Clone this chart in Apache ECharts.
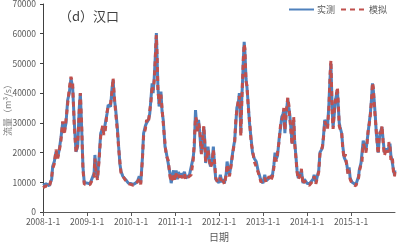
<!DOCTYPE html>
<html>
<head>
<meta charset="utf-8">
<script src="https://cdn.jsdelivr.net/npm/echarts@6/dist/echarts.min.js"></script>
<style>
  html, body { margin: 0; padding: 0; background: #fff; }
  #chart { width: 397px; height: 244px; }
</style>
</head>
<body>
<div id="chart"></div>
<script>
const dates = [
  "2008-01-01","2008-01-26","2008-02-22","2008-03-13","2008-03-21","2008-04-04","2008-04-18","2008-05-02","2008-05-15","2008-05-29","2008-06-12","2008-06-26","2008-07-10","2008-07-24","2008-08-06","2008-08-20","2008-09-03","2008-09-17","2008-10-01","2008-10-15","2008-10-28","2008-11-06","2008-11-17","2008-11-28","2008-12-09","2008-12-26",
  "2009-01-10","2009-01-25","2009-02-10","2009-02-28","2009-03-07","2009-03-15","2009-03-28","2009-04-10","2009-04-24","2009-05-10","2009-05-20","2009-06-01","2009-06-15","2009-06-25","2009-07-15","2009-07-28","2009-08-05","2009-08-15","2009-08-25","2009-09-10","2009-09-20","2009-10-01","2009-10-10","2009-10-25","2009-11-10","2009-11-25","2009-12-10","2009-12-28",
  "2010-01-10","2010-01-20","2010-02-10","2010-02-25","2010-03-10","2010-03-22","2010-04-05","2010-04-15","2010-04-30","2010-05-10","2010-05-25","2010-06-05","2010-06-15","2010-06-25","2010-07-03","2010-07-12","2010-07-20","2010-07-26","2010-07-30","2010-08-05","2010-08-12","2010-08-22","2010-08-30","2010-09-06","2010-09-15","2010-09-25","2010-10-10","2010-10-20","2010-11-05","2010-11-20","2010-11-30","2010-12-10","2010-12-20","2010-12-31",
  "2011-01-10","2011-01-20","2011-01-30","2011-02-10","2011-02-20","2011-03-05","2011-03-20","2011-04-01","2011-04-15","2011-05-01","2011-05-15","2011-06-01","2011-06-10","2011-06-20","2011-06-28","2011-07-07","2011-07-15","2011-07-25","2011-08-02","2011-08-08","2011-08-20","2011-08-28","2011-09-05","2011-09-12","2011-09-22","2011-10-02","2011-10-12","2011-10-22","2011-11-05","2011-11-15","2011-11-25","2011-12-05","2011-12-20","2011-12-31",
  "2012-01-12","2012-01-25","2012-02-05","2012-02-15","2012-03-01","2012-03-08","2012-03-20","2012-03-28","2012-04-10","2012-04-20","2012-05-01","2012-05-10","2012-05-20","2012-05-28","2012-06-10","2012-06-18","2012-06-25","2012-06-30","2012-07-08","2012-07-15","2012-07-22","2012-07-28","2012-08-03","2012-08-12","2012-08-20","2012-09-02","2012-09-10","2012-09-25","2012-10-05","2012-10-20","2012-11-05","2012-11-20","2012-12-01","2012-12-15","2012-12-31",
  "2013-01-15","2013-01-25","2013-02-05","2013-02-20","2013-03-05","2013-03-20","2013-04-01","2013-04-10","2013-04-20","2013-05-01","2013-05-15","2013-05-25","2013-06-05","2013-06-15","2013-06-22","2013-07-01","2013-07-10","2013-07-18","2013-07-25","2013-08-03","2013-08-10","2013-08-20","2013-08-30","2013-09-06","2013-09-12","2013-09-20","2013-09-28","2013-10-10","2013-10-20","2013-11-05","2013-11-15","2013-11-28","2013-12-10","2013-12-20","2013-12-31",
  "2014-01-20","2014-02-05","2014-02-20","2014-03-01","2014-03-15","2014-03-25","2014-04-08","2014-04-18","2014-05-01","2014-05-10","2014-05-20","2014-05-28","2014-06-10","2014-06-20","2014-07-01","2014-07-05","2014-07-12","2014-07-18","2014-07-25","2014-07-30","2014-08-05","2014-08-15","2014-08-25","2014-09-05","2014-09-10","2014-09-18","2014-09-25","2014-10-02","2014-10-15","2014-10-25","2014-11-05","2014-11-15","2014-11-25","2014-12-08","2014-12-16","2014-12-25",
  "2015-01-10","2015-01-25","2015-02-10","2015-02-20","2015-03-05","2015-03-10","2015-03-25","2015-04-02","2015-04-12","2015-04-25","2015-05-05","2015-05-15","2015-05-22","2015-06-01","2015-06-10","2015-06-20","2015-06-28","2015-07-05","2015-07-12","2015-07-22","2015-07-30","2015-08-10","2015-08-15","2015-08-22","2015-08-30","2015-09-10","2015-09-15","2015-09-25","2015-10-05","2015-10-15","2015-10-25","2015-11-05","2015-11-12","2015-11-20","2015-11-28","2015-12-05","2015-12-12","2015-12-20","2015-12-28","2015-12-31"
];
const observed = [
  9000,9500,8800,11000,15300,17000,20300,18500,21000,25000,29900,27000,30000,37700,40000,45000,42000,30000,20300,22000,35000,40000,28000,15000,9700,9800,
  9700,9500,9800,13000,19200,15000,11400,18000,26500,28200,27000,26500,33000,36000,35500,42000,44400,38000,35000,28000,22000,16000,13600,12000,11400,10500,9700,9600,
  9700,9300,9800,10500,12000,9700,18000,26500,29000,30000,31000,33000,38000,43300,40000,45000,51200,56000,60200,52000,42000,35500,38000,40500,34000,31000,22000,20000,16500,13000,9700,12000,14000,11000,
  14000,11000,13500,11500,13000,12000,13500,11400,12000,12500,13000,18400,22000,34300,30000,27600,31000,27000,22000,20000,24000,28600,24000,16500,19000,22000,18000,15300,17000,22000,16000,11000,10500,9800,
  12500,10000,11000,9700,13000,17000,14000,12500,16000,19000,22000,24000,30000,35000,37000,40000,33000,26500,38000,44400,52000,57300,54000,45000,42000,35000,30000,24000,20000,18000,17000,14000,12500,10500,9700,
  12500,10500,11000,11400,11000,12500,16000,20000,17800,19000,25000,28000,32000,33000,34300,26500,33000,35500,38200,35000,33000,28000,23000,27000,31000,24000,20000,14000,11400,13000,14000,9700,11000,10500,9700,
  9500,10000,11000,12500,10000,9700,14000,20000,21000,22000,27000,31000,30000,28600,36000,40000,46000,50000,40000,33000,28600,33000,37700,40000,41000,35000,30000,28600,26500,22000,18400,19000,16500,13000,15000,11400,
  10000,9700,9200,9500,12000,14000,16500,16500,24000,22000,20800,24000,26500,30000,33000,38000,43300,41000,37700,32000,26500,22000,20000,24000,26500,27000,28600,24000,20000,21000,20800,21000,22000,23000,19000,17800,18400,14000,12500,14000
];
const simulated = [
  8200,8800,8300,11800,14500,16200,21000,18000,20500,24000,30500,26000,31000,36500,41500,45500,43500,28500,20000,23000,34000,40000,29500,14000,9300,9400,
  9300,9200,9500,12000,18000,14000,10800,17000,25500,29000,26000,27500,33500,35500,36500,41000,45000,39000,34000,27000,21500,16500,13000,12500,11000,10200,9500,9300,
  9400,9000,9400,10000,11000,9300,17500,25500,28000,31000,30000,34000,37000,42500,41000,44000,50500,57000,59500,53000,41000,36500,37000,39500,35000,30000,23000,19000,17500,12000,10200,11500,13000,10500,
  13000,11800,12500,11000,12200,11500,13000,10800,11500,12000,12500,17500,23500,32000,31000,26500,30000,28000,23000,19500,25000,29000,23000,17000,18500,21000,17500,15000,16500,21000,17000,11500,10000,9500,
  11500,9600,10500,9300,12500,16000,13500,12000,15500,18500,21500,23500,31500,34000,38000,39000,34000,25500,37000,45000,53000,56500,55000,44000,42500,34000,31000,23000,21000,17000,17500,13500,12000,10000,9500,
  11500,10000,10500,12000,10500,12000,15000,19000,17000,20000,24000,29000,31000,32000,35000,27500,32000,36000,38500,36000,32000,27000,22500,28000,32000,23000,19500,13500,11000,12500,14500,9300,10500,10000,9300,
  9000,9500,10500,12000,9500,9200,13500,19500,20500,22500,26000,30500,31000,28000,35000,39000,47000,51000,39000,32000,28000,34000,38000,40500,42000,36000,29000,28000,27000,21000,18000,19500,16000,12500,14000,11000,
  9500,9200,8800,9000,11500,13500,16000,17000,23000,21500,20000,23500,27000,29500,32500,37500,43500,42000,36500,31000,27000,21000,19500,24500,27000,26000,29000,23000,19000,20500,21500,20000,23500,22000,17500,18500,17500,13000,12000,13500
];
const yTicks = [0, 10000, 20000, 30000, 40000, 50000, 60000, 70000];

const obsData = dates.map((d, i) => [d, observed[i]]);
const simData = dates.map((d, i) => [d, simulated[i]]);

const chart = echarts.init(document.getElementById("chart"), null, { renderer: "canvas" });
const DAY = 24 * 3600 * 1000;
chart.setOption({
  animation: false,
  backgroundColor: "#fff",
  textStyle: { fontFamily: "Noto Sans CJK SC" },
  title: {
    text: "（d）汉口",
    left: 54,
    top: 5,
    textStyle: { fontSize: 13, fontWeight: "normal", color: "#404040", fontFamily: "Noto Sans CJK SC" }
  },
  legend: {
    top: 0,
    right: 5,
    itemWidth: 25,
    itemHeight: 8,
    itemGap: 5,
    itemStyle: { opacity: 0 },
    textStyle: { fontSize: 9, color: "#595959", padding: [0, 0, 0, -2] },
    data: ["实测", "模拟"]
  },
  grid: { left: 43, right: 2, top: 4, bottom: 32, outerBoundsMode: "none" },
  xAxis: {
    type: "time",
    min: "2008-01-01",
    max: "2016-01-01",
    minInterval: 365 * DAY,
    maxInterval: 366 * DAY,
    name: "日期",
    nameLocation: "middle",
    nameGap: 20,
    nameMoveOverlap: false,
    nameTextStyle: { fontSize: 10, color: "#595959" },
    axisLine: { lineStyle: { color: "#595959", width: 1 } },
    axisTick: { show: true, length: 4, lineStyle: { color: "#595959" } },
    minorTick: { show: false },
    splitLine: { show: false },
    axisLabel: {
      fontSize: 8.5,
      color: "#595959",
      margin: 6,
      showMaxLabel: false,
      formatter: function (v) {
        const d = new Date(v);
        return d.getFullYear() + "-" + (d.getMonth() + 1) + "-" + d.getDate();
      }
    }
  },
  yAxis: {
    type: "value",
    min: yTicks[0],
    max: yTicks[yTicks.length - 1],
    interval: 10000,
    name: "流量（m³/s）",
    nameLocation: "middle",
    nameGap: 31,
    nameMoveOverlap: false,
    nameTextStyle: { fontSize: 9, color: "#7f7f7f" },
    axisLine: { show: true, lineStyle: { color: "#404040", width: 1 } },
    axisTick: { show: true, length: 3, lineStyle: { color: "#404040" } },
    splitLine: { show: false },
    axisLabel: {
      fontSize: 8.5,
      color: "#595959",
      margin: 7,
      formatter: function (v) { return String(v); }
    }
  },
  series: [
    {
      name: "实测",
      type: "line",
      showSymbol: false,
      symbol: "none",
      data: obsData,
      itemStyle: { color: "#4F81BD" },
      lineStyle: { color: "#4F81BD", width: 3, type: "solid" },
      z: 2
    },
    {
      name: "模拟",
      type: "line",
      showSymbol: false,
      symbol: "none",
      data: simData,
      itemStyle: { color: "#C0504D" },
      lineStyle: { color: "#C0504D", width: 3, type: [5, 4] },
      z: 3
    }
  ]
});
</script>
</body>
</html>
